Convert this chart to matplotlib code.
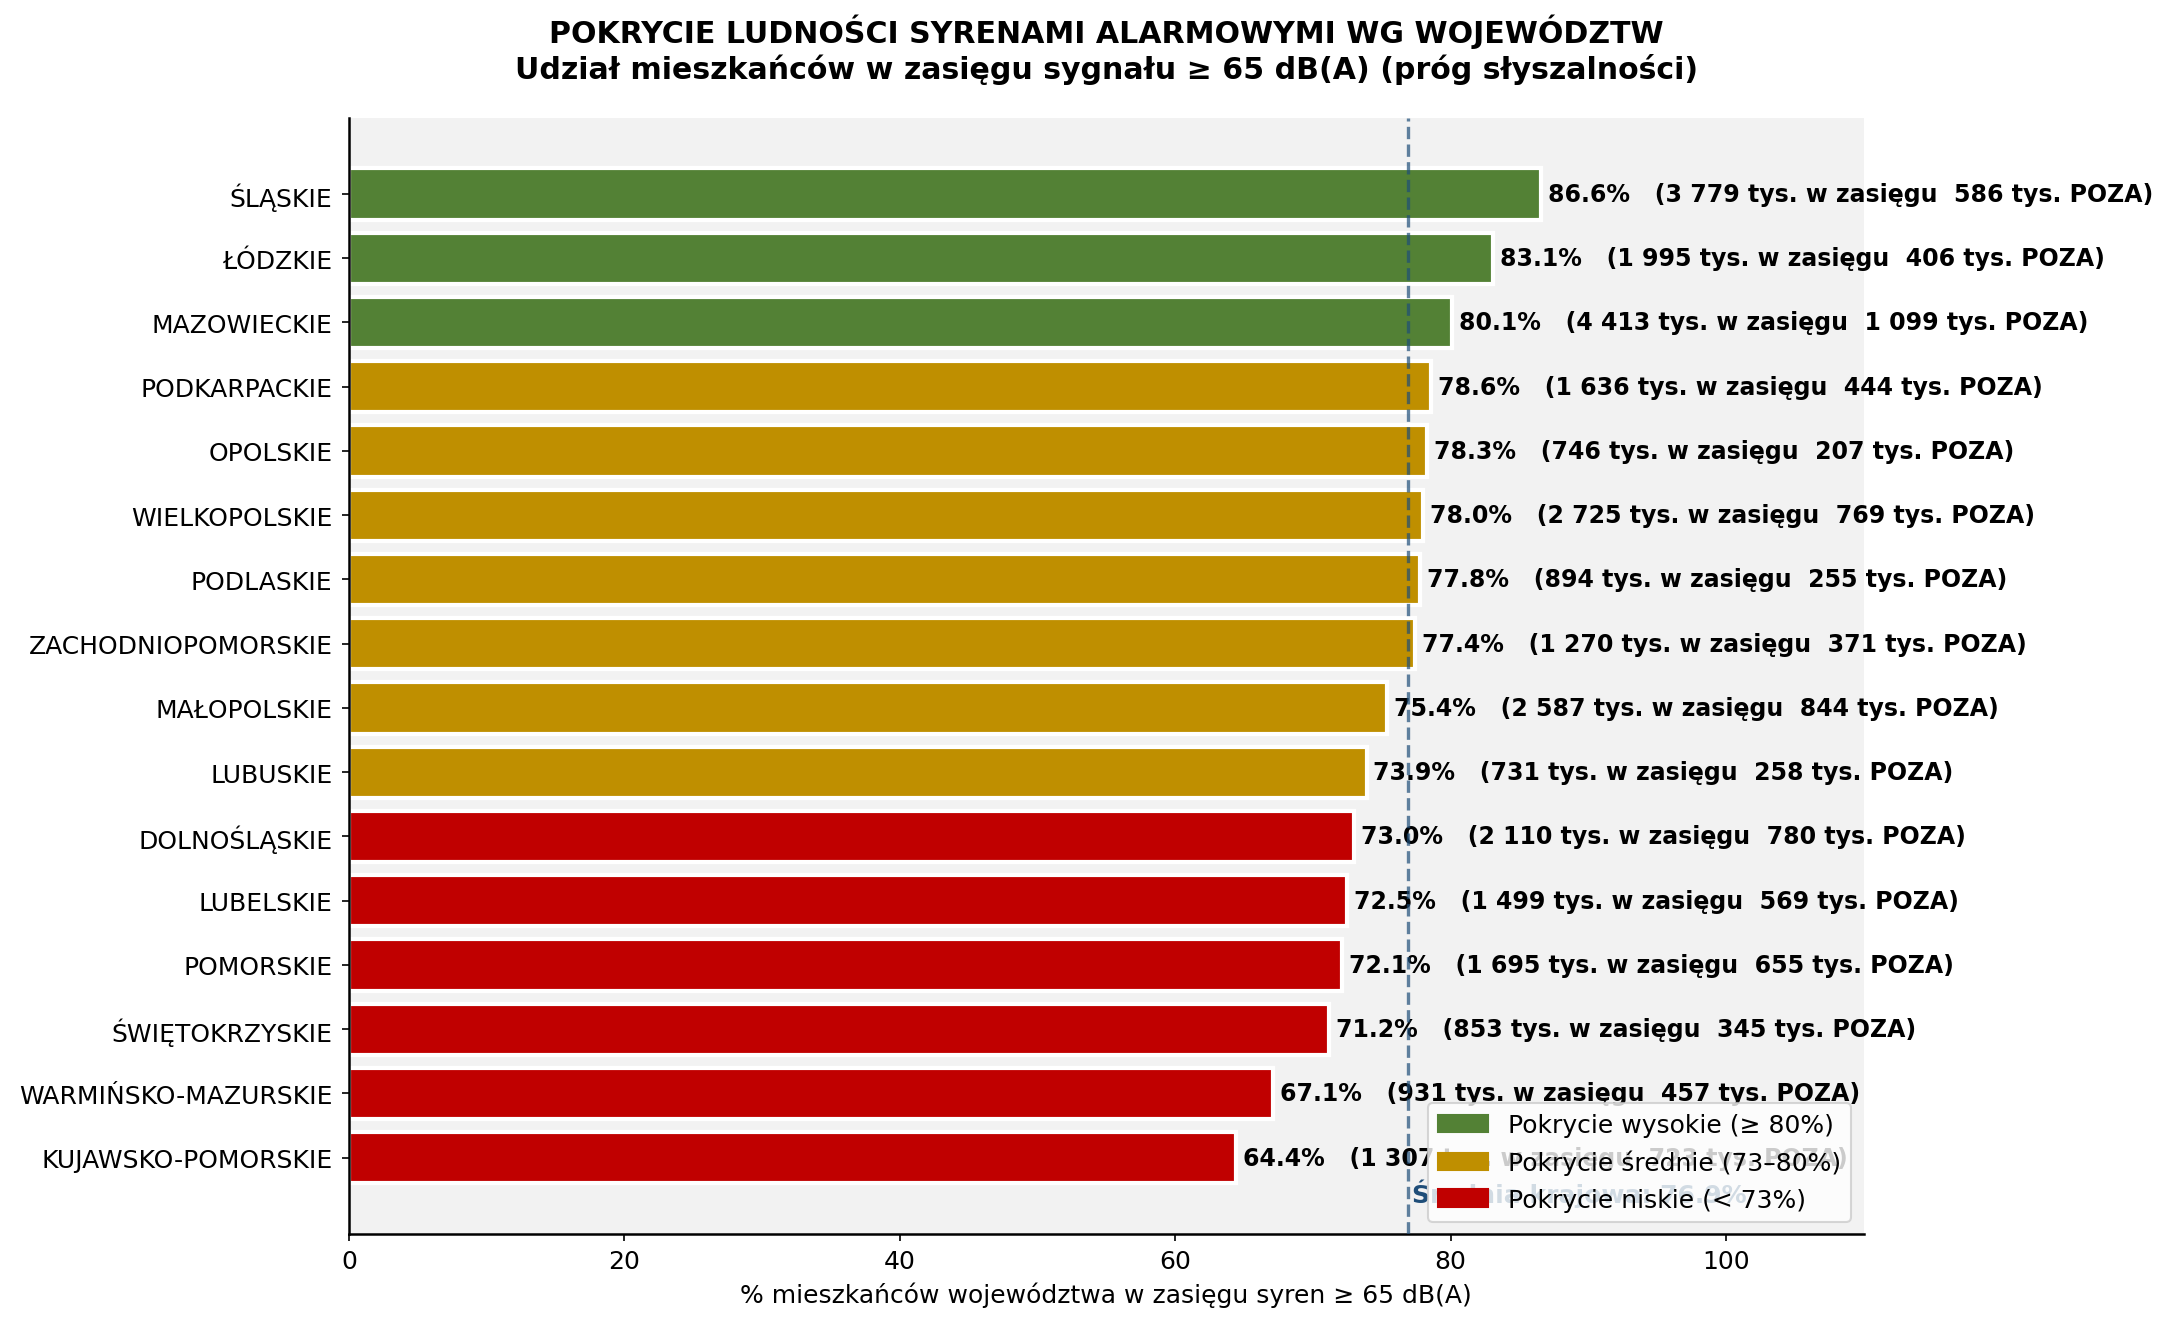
import matplotlib.pyplot as plt
from matplotlib.patches import Patch

# dane: województwa posortowane malejąco wg pokrycia
wojewodztwa = ['ŚLĄSKIE', 'ŁÓDZKIE', 'MAZOWIECKIE', 'PODKARPACKIE', 'OPOLSKIE',
               'WIELKOPOLSKIE', 'PODLASKIE', 'ZACHODNIOPOMORSKIE', 'MAŁOPOLSKIE',
               'LUBUSKIE', 'DOLNOŚLĄSKIE', 'LUBELSKIE', 'POMORSKIE',
               'ŚWIĘTOKRZYSKIE', 'WARMIŃSKO-MAZURSKIE', 'KUJAWSKO-POMORSKIE']
pokrycie = [86.6, 83.1, 80.1, 78.6, 78.3, 78.0, 77.8, 77.4, 75.4, 73.9,
            73.0, 72.5, 72.1, 71.2, 67.1, 64.4]
w_zasiegu = [3779, 1995, 4413, 1636, 746, 2725, 894, 1270, 2587, 731,
             2110, 1499, 1695, 853, 931, 1307]
poza = [586, 406, 1099, 444, 207, 769, 255, 371, 844, 258,
        780, 569, 655, 345, 457, 723]
poziom = ['wysokie'] * 3 + ['srednie'] * 7 + ['niskie'] * 6
srednia = 76.9

kolory = {'wysokie': '#538135', 'srednie': '#BF8F00', 'niskie': '#C00000'}


def tys(v):
    return '{:,}'.format(v).replace(',', ' ')


fig = plt.figure(figsize=(14.49, 8.873), dpi=150)
ax = fig.add_axes([0.1606, 0.072, 0.6968, 0.839])
ax.set_facecolor('#F2F2F2')

y = list(range(len(wojewodztwa)))
ax.barh(y, pokrycie, height=0.8, color=[kolory[p] for p in poziom],
        edgecolor='white', linewidth=2)
ax.set_yticks(y)
ax.set_yticklabels(wojewodztwa, fontsize=12)
ax.tick_params(axis='y', pad=4.5)
ax.invert_yaxis()

for i, v in enumerate(pokrycie):
    ax.text(v + 0.5, i, '{:.1f}%   ({} tys. w zasięgu  {} tys. POZA)'.format(
        v, tys(w_zasiegu[i]), tys(poza[i])),
        va='center', ha='left', fontsize=11.35, fontweight='bold')

ax.axvline(srednia, color='#1F4E79', linestyle='--', linewidth=1.6,
           alpha=0.7, zorder=4)
ax.text(srednia + 0.3, len(wojewodztwa) - 0.45, 'Średnia krajowa: {}%'.format(srednia),
        color='#1F4E79', fontsize=12, fontweight='bold', va='center', ha='left')

ax.set_xlim(0, 110)
ax.tick_params(axis='x', labelsize=12)
ax.set_xlabel('% mieszkańców województwa w zasięgu syren ≥ 65 dB(A)', fontsize=12)
ax.spines['top'].set_visible(False)
ax.spines['right'].set_visible(False)
ax.spines['left'].set_linewidth(1.2)
ax.spines['bottom'].set_linewidth(1.2)

handles = [Patch(color=kolory['wysokie'], label='Pokrycie wysokie (≥ 80%)'),
           Patch(color=kolory['srednie'], label='Pokrycie średnie (73–80%)'),
           Patch(color=kolory['niskie'], label='Pokrycie niskie (< 73%)')]
ax.legend(handles=handles, loc='lower right', fontsize=12)

ax.set_title('POKRYCIE LUDNOŚCI SYRENAMI ALARMOWYMI WG WOJEWÓDZTW\n'
             'Udział mieszkańców w zasięgu sygnału ≥ 65 dB(A) (próg słyszalności)',
             fontsize=14.4, fontweight='bold', pad=19)

fig.savefig('out.png', dpi=150)
